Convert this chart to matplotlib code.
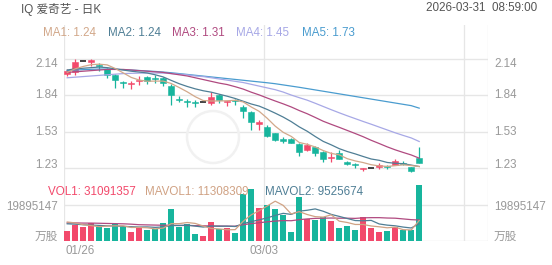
import matplotlib
matplotlib.use("Agg")
import matplotlib.pyplot as plt
import matplotlib.transforms as mtransforms
from matplotlib.patches import Circle
import numpy as np

plt.rcParams['font.family'] = ['Liberation Sans', 'Noto Sans CJK SC', 'DejaVu Sans']

# ---------------- data ----------------
x_labels = ["01/26", "03/03"]
x_label_idx = [0, 25]

opens  = [2.02, 2.03, 2.125, 2.12, 2.09, 2.06, 2.01, 1.95, 1.93, 1.96,
          1.99, 1.98, 1.98, 1.92, 1.81, 1.79, 1.78, 1.78, 1.77, 1.84,
          1.785, 1.795, 1.74, 1.70, 1.60, 1.57, 1.52, 1.47, 1.47, 1.43,
          1.38, 1.40, 1.36, 1.31, 1.35, 1.28, 1.26, 1.22, 1.23, 1.24,
          1.245, 1.255, 1.27, 1.24, 1.31]
highs  = [2.06, 2.14, 2.125, 2.14, 2.11, 2.07, 2.02, 1.96, 1.96, 2.00,
          2.00, 2.005, 1.995, 1.93, 1.83, 1.81, 1.80, 1.78, 1.865, 1.85,
          1.79, 1.81, 1.76, 1.71, 1.63, 1.59, 1.525, 1.49, 1.48, 1.44,
          1.44, 1.41, 1.37, 1.36, 1.38, 1.285, 1.27, 1.23, 1.23, 1.27,
          1.25, 1.30, 1.29, 1.24, 1.40]
lows   = [2.00, 2.01, 2.125, 2.08, 2.04, 1.98, 1.90, 1.90, 1.89, 1.925,
          1.93, 1.945, 1.915, 1.76, 1.78, 1.74, 1.74, 1.78, 1.76, 1.77,
          1.745, 1.76, 1.65, 1.55, 1.55, 1.49, 1.45, 1.44, 1.44, 1.33,
          1.37, 1.33, 1.28, 1.28, 1.30, 1.25, 1.23, 1.20, 1.23, 1.22,
          1.22, 1.25, 1.25, 1.19, 1.27]
closes = [2.04, 2.12, 2.125, 2.13, 2.08, 2.01, 1.97, 1.94, 1.94, 1.97,
          1.96, 1.975, 1.94, 1.84, 1.80, 1.78, 1.77, 1.78, 1.82, 1.80,
          1.79, 1.79, 1.71, 1.61, 1.615, 1.50, 1.46, 1.45, 1.44, 1.36,
          1.42, 1.35, 1.30, 1.32, 1.30, 1.26, 1.255, 1.23, 1.23, 1.25,
          1.24, 1.285, 1.265, 1.20, 1.27]

ma1 = [2.03, 2.06, 2.08, 2.095, 2.099, 2.093, 2.063, 2.026, 1.988, 1.966,
       1.956, 1.957, 1.957, 1.937, 1.903, 1.867, 1.826, 1.794, 1.79, 1.79,
       1.792, 1.796, 1.782, 1.74, 1.703, 1.645, 1.579, 1.527, 1.493, 1.442,
       1.426, 1.404, 1.374, 1.35, 1.338, 1.306, 1.287, 1.273, 1.255, 1.245,
       1.241, 1.247, 1.254, 1.248, 1.24]
ma2 = [2.05, 2.06, 2.065, 2.07, 2.075, 2.07, 2.06, 2.05, 2.04, 2.033,
       2.025, 2.010, 1.992, 1.963, 1.935, 1.912, 1.892, 1.876, 1.864, 1.847,
       1.830, 1.811, 1.788, 1.765, 1.747, 1.719, 1.688, 1.655, 1.617, 1.573,
       1.536, 1.492, 1.451, 1.422, 1.39, 1.366, 1.346, 1.324, 1.303, 1.292,
       1.274, 1.267, 1.264, 1.252, 1.24]
ma3 = [2.03, 2.035, 2.04, 2.045, 2.05, 2.055, 2.055, 2.055, 2.05, 2.045,
       2.04, 2.035, 2.03, 2.02, 2.01, 2.0, 1.985, 1.97, 1.955, 1.94,
       1.928, 1.91, 1.89, 1.864, 1.841, 1.815, 1.79, 1.766, 1.74, 1.71,
       1.683, 1.652, 1.62, 1.594, 1.569, 1.543, 1.517, 1.49, 1.46, 1.433,
       1.405, 1.38, 1.358, 1.337, 1.31]
ma4 = [1.985, 1.99, 1.995, 2.0, 2.005, 2.01, 2.015, 2.02, 2.022, 2.024,
       2.025, 2.025, 2.024, 2.02, 2.015, 2.01, 2.0, 1.995, 1.985, 1.975,
       1.965, 1.955, 1.945, 1.93, 1.915, 1.9, 1.885, 1.865, 1.84, 1.818,
       1.797, 1.771, 1.744, 1.717, 1.691, 1.666, 1.642, 1.618, 1.595, 1.571,
       1.547, 1.523, 1.501, 1.48, 1.45]
ma5 = [2.045, 2.05, 2.053, 2.056, 2.058, 2.058, 2.056, 2.053, 2.05, 2.046,
       2.042, 2.038, 2.033, 2.027, 2.02, 2.013, 2.006, 1.999, 1.992, 1.985,
       1.978, 1.971, 1.964, 1.957, 1.95, 1.943, 1.935, 1.925, 1.915, 1.905,
       1.894, 1.883, 1.872, 1.861, 1.85, 1.839, 1.828, 1.817, 1.806, 1.795,
       1.784, 1.773, 1.762, 1.751, 1.73]

volumes = [5.5, 8.8, 7.9, 9.8, 7.6, 7.2, 9.4, 7.9, 5.2, 7.9,
           6.1, 6.4, 10.1, 17.5, 7.9, 9.2, 3.9, 2.9, 10.7, 6.6,
           7.0, 4.2, 26.0, 28.5, 18.1, 19.9, 17.5, 14.4, 4.8, 24.5,
           12.0, 11.6, 13.1, 11.2, 7.0, 8.3, 6.1, 13.1, 7.0, 4.8,
           5.5, 7.9, 6.1, 6.1, 31.091357]  # millions
mavol1 = [10.5, 10.0, 9.0, 8.5, 7.92, 8.26, 8.38, 8.38, 7.46, 7.52,
          7.3, 6.7, 7.14, 9.6, 9.6, 10.22, 9.72, 8.28, 6.92, 6.66,
          6.22, 6.28, 10.9, 14.46, 16.76, 19.34, 22.0, 19.68, 14.94, 16.22,
          14.64, 13.46, 13.2, 14.48, 10.98, 10.24, 9.14, 9.14, 8.3, 7.86,
          7.3, 7.66, 6.26, 6.08, 11.308309]
mavol2 = [9.5, 9.3, 9.0, 8.8, 8.6, 8.4, 8.3, 8.1, 7.9, 7.72,
          7.78, 7.54, 7.76, 8.53, 8.56, 8.76, 8.21, 7.71, 8.26, 8.13,
          8.22, 8.0, 9.59, 10.69, 11.71, 12.78, 14.14, 15.29, 14.7, 16.49,
          16.99, 17.73, 16.44, 14.71, 13.6, 12.44, 11.3, 11.17, 11.39, 9.42,
          8.77, 8.4, 7.7, 7.19, 9.525674]
mavol3 = [10.0, 10.0, 9.9, 9.9, 9.8, 9.7, 9.6, 9.5, 9.3, 9.0,
          8.9, 8.8, 8.7, 8.7, 8.6, 8.6, 8.5, 8.4, 8.3, 8.3,
          8.2, 8.2, 9.0, 9.6, 10.1, 10.6, 11.0, 11.3, 11.2, 11.8,
          12.2, 12.5, 12.6, 12.7, 12.6, 12.6, 12.5, 12.8, 12.9, 12.9,
          12.7, 12.6, 12.2, 11.8, 11.6]

price_ticks = [2.14, 1.8367, 1.5333, 1.23]
price_tick_labels = ["2.14", "1.84", "1.53", "1.23"]
vol_tick = 19.895147
vol_tick_label = "19895147"
vol_unit = "万股"

ma_names = ["MA1: 1.24", "MA2: 1.24", "MA3: 1.31", "MA4: 1.45", "MA5: 1.73"]
vol_names = ["VOL1: 31091357", "MAVOL1: 11308309", "MAVOL2: 9525674"]
title = "IQ 爱奇艺 - 日K"
timestamp = "2026-03-31  08:59:00"

# ---------------- style ----------------
UP = '#f2496b'
DOWN = '#17b59d'
GRID = '#e6e6e6'
LABEL = '#999999'
c_ma = ['#d2a88a', '#4f7e95', '#b04a80', '#a7a8e6', '#4a9ccf']
c_vol = ['#f2496b', '#d0a284', '#4f7e95']
FS = 8.4

W, H = 552, 265
fig = plt.figure(figsize=(W / 100, H / 100), dpi=100)
fig.patch.set_facecolor('white')

L, R = 64, 488
ax = fig.add_axes([L / W, 1 - 176 / H, (R - L) / W, (176 - 25) / H])
axv = fig.add_axes([L / W, 1 - 241 / H, (R - L) / W, (241 - 176) / H])

n = len(closes)
xs = np.arange(n)
xmin, xmax = -0.4, 52.6
for a in (ax, axv):
    a.set_xlim(xmin, xmax)
    a.set_facecolor('none')
    for s in a.spines.values():
        s.set_visible(False)
    a.set_xticks([])
    a.set_yticks([])
    for gx in (xmin, 24.6, 49.6, xmax):
        a.axvline(gx, color=GRID, lw=0.9, zorder=0)

ppx = 108.4 / (2.14 - 1.23)
ax.set_ylim(1.23 - 8.3 / ppx, 2.14 + 34.3 / ppx)
vpx = 36.0 / vol_tick
axv.set_ylim(0, 65 / vpx)

for t in price_ticks:
    ax.axhline(t, color=GRID, lw=1.0, zorder=0)
axv.axhline(vol_tick, color=GRID, lw=1.0, zorder=0)
axv.axhline(0, color=GRID, lw=1.0, zorder=0)

# faint watermark logo (behind the chart)
fig.patches.append(Circle((213, H - 137), 26, transform=None, fill=False,
                          ec='#f1f1f1', lw=1.8, zorder=1))

# candles
bw = 0.72
for i in range(n):
    o, h, l, c = opens[i], highs[i], lows[i], closes[i]
    if c > o:
        col = UP
    elif c < o:
        col = DOWN
    else:
        col = '#111111'
    ax.vlines(xs[i], l, h, color=col, lw=0.9, zorder=3)
    if c == o:
        ax.hlines(c, xs[i] - bw / 2, xs[i] + bw / 2, color=col, lw=1.1, zorder=4)
    else:
        ax.bar(xs[i], abs(c - o), bottom=min(o, c), width=bw, color=col,
               edgecolor=col, lw=0.4, zorder=4)
    vcol = UP if c >= o else DOWN
    axv.bar(xs[i], volumes[i], width=bw, color=vcol, lw=0, zorder=3)

for arr, col in zip([ma5, ma4, ma3, ma2, ma1], [c_ma[4], c_ma[3], c_ma[2], c_ma[1], c_ma[0]]):
    ax.plot(xs, arr, color=col, lw=0.9, zorder=5)

axv.plot(xs, mavol3, color=c_ma[2], lw=0.9, zorder=5)
axv.plot(xs, mavol2, color=c_vol[2], lw=0.9, zorder=5)
axv.plot(xs, mavol1, color=c_vol[1], lw=0.9, zorder=5)

# y labels
def off(a, dx, dy):
    return mtransforms.offset_copy(a.get_yaxis_transform(), fig=fig, x=dx, y=dy, units='dots')

for k, (t, lab) in enumerate(zip(price_ticks, price_tick_labels)):
    dy = 0
    if k == 0:
        dy = -4.7
    elif k == len(price_ticks) - 1:
        dy = 2.7
    ax.text(0, t, lab, transform=off(ax, -6, dy), ha='right', va='center',
            fontsize=FS, color=LABEL)
    ax.text(1, t, lab, transform=off(ax, 6, dy), ha='left', va='center',
            fontsize=FS, color=LABEL)

for xx, ha, dx in [(0, 'right', -6), (1, 'left', 6)]:
    axv.text(xx, vol_tick, vol_tick_label, transform=off(axv, dx, -2.3),
             ha=ha, va='center', fontsize=FS, color=LABEL)
    axv.text(xx, 0, vol_unit, transform=off(axv, dx, 4.3),
             ha=ha, va='center', fontsize=FS, color=LABEL)

# x labels
for idx, lab in zip(x_label_idx, x_labels):
    gx = idx - 0.4
    if idx == 0:
        tr = mtransforms.offset_copy(axv.get_xaxis_transform(), fig=fig, x=1, y=-10, units='dots')
        axv.text(gx, 0, lab, transform=tr, ha='left', va='center', fontsize=FS, color=LABEL)
    else:
        tr = mtransforms.offset_copy(axv.get_xaxis_transform(), fig=fig, x=0, y=-10, units='dots')
        axv.text(gx, 0, lab, transform=tr, ha='center', va='center', fontsize=FS, color=LABEL)

# header texts
fig.text(21 / W, 1 - 9 / H, title, ha='left', va='center', fontsize=FS, color='#555555')
fig.text(537 / W, 1 - 8 / H, timestamp, ha='right', va='center', fontsize=FS, color='#555555')

ma_x = [43, 107.5, 171.5, 236.5, 301.5]
for xx, name, col in zip(ma_x, ma_names, c_ma):
    fig.text(xx / W, 1 - 33.5 / H, name, ha='left', va='center', fontsize=FS, color=col)

vol_x = [48, 145, 265]
for xx, name, col in zip(vol_x, vol_names, c_vol):
    fig.text(xx / W, 1 - 192 / H, name, ha='left', va='center', fontsize=FS, color=col, zorder=10)

fig.savefig('out.png', dpi=100, facecolor='white')
